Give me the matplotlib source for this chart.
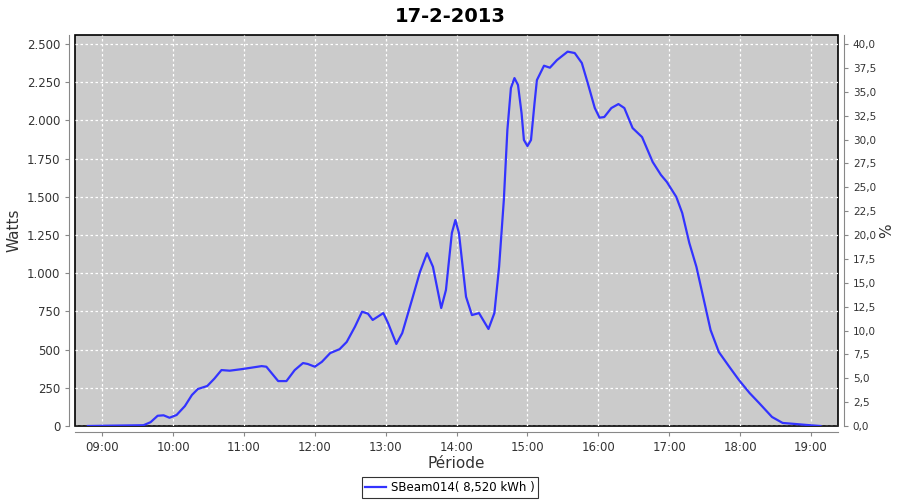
import matplotlib
matplotlib.use("Agg")
import matplotlib.pyplot as plt
import matplotlib.dates as mdates
from matplotlib.ticker import FuncFormatter, MultipleLocator
import pandas as pd


day = "2013-02-17"

times = ["08:48", "09:05", "09:35", "09:41", "09:47", "09:52", "09:57", "10:03",
         "10:10", "10:16", "10:21", "10:29", "10:35", "10:41", "10:48", "10:59",
         "11:15", "11:19", "11:29", "11:36", "11:43", "11:50", "11:54", "12:00",
         "12:06", "12:13", "12:21", "12:27", "12:34", "12:40", "12:45", "12:49",
         "12:58", "13:02", "13:09", "13:14", "13:23", "13:29", "13:35", "13:40",
         "13:47", "13:51", "13:56", "13:59", "14:02", "14:08", "14:13", "14:19",
         "14:27", "14:32", "14:36", "14:40", "14:43", "14:46", "14:49", "14:52",
         "14:55", "14:57", "15:00", "15:03", "15:06", "15:08", "15:14", "15:19",
         "15:25", "15:34", "15:40", "15:46", "15:51", "15:57", "16:01", "16:05",
         "16:11", "16:17", "16:22", "16:29", "16:37", "16:46", "16:53", "16:58",
         "17:06", "17:11", "17:17", "17:23", "17:28", "17:35", "17:42", "17:51",
         "17:59", "18:08", "18:16", "18:27", "18:36", "18:47", "18:56", "19:08"]

watts = [0, 2, 5, 25, 67, 70, 54, 72,
         130, 203, 242, 262, 310, 366, 362, 373,
         392, 388, 294, 294, 366, 412, 406, 388,
         420, 477, 503, 550, 650, 748, 735, 694,
         739, 674, 537, 608, 846, 1008, 1131, 1042,
         772, 890, 1263, 1348, 1263, 846, 726, 739,
         635, 739, 1042, 1479, 1937, 2212, 2277, 2232,
         2048, 1872, 1832, 1872, 2114, 2264, 2358, 2345,
         2395, 2450, 2441, 2376, 2245, 2081, 2018, 2022,
         2081, 2107, 2081, 1950, 1891, 1728, 1643, 1597,
         1499, 1394, 1198, 1042, 870, 628, 484, 386,
         301, 216, 151, 59, 20, 13, 7, 0]

x_start, x_end = "08:37", "19:23"
w_max = 2559
pct_per_watt = 40 / 2500

t = pd.to_datetime([day + " " + s for s in times])

fig = plt.figure(figsize=(9, 5), dpi=100)
ax = fig.add_axes([0.0833, 0.148, 0.848, 0.782])

ax.set_facecolor("#cbcbcb")
ax.patch.set_edgecolor("black")
ax.patch.set_linewidth(1.2)

ax.plot(t, watts, color="#3333ff", lw=1.6, label="SBeam014( 8,520 kWh )")

ax.set_xlim(pd.Timestamp(day + " " + x_start), pd.Timestamp(day + " " + x_end))
ax.set_ylim(0, w_max)

ax.xaxis.set_major_locator(mdates.HourLocator())
ax.xaxis.set_major_formatter(mdates.DateFormatter("%H:%M"))
ax.yaxis.set_major_locator(MultipleLocator(250))
ax.yaxis.set_major_formatter(FuncFormatter(
    lambda v, p: "{:,}".format(int(round(v))).replace(",", ".")))

ax.grid(True, color="white", linestyle=(0, (2, 2)), lw=0.9)

for side in ["top", "right"]:
    ax.spines[side].set_visible(False)
for side in ["left", "bottom"]:
    ax.spines[side].set_position(("outward", 4))
    ax.spines[side].set_color("#888888")

ax.tick_params(axis="both", colors="#888888", labelcolor="#333333",
               length=3, labelsize=8.5)

ax2 = ax.twinx()
ax2.set_ylim(0, w_max * pct_per_watt)
ax2.yaxis.set_major_locator(MultipleLocator(2.5))
ax2.yaxis.set_major_formatter(FuncFormatter(lambda v, p: "{:.1f}".format(v).replace(".", ",")))
for side in ["top", "left", "bottom"]:
    ax2.spines[side].set_visible(False)
ax2.spines["right"].set_position(("outward", 4))
ax2.spines["right"].set_color("#888888")
ax2.tick_params(axis="y", colors="#888888", labelcolor="#333333",
                length=3, labelsize=7.5)

ax.set_xlabel("Période", fontsize=11, color="#333333", labelpad=2)
ax.set_ylabel("Watts", fontsize=11, color="#333333", labelpad=4)
ax2.set_ylabel("%", fontsize=11, color="#333333", labelpad=2)

fig.suptitle("17-2-2013", fontsize=14, fontweight="bold", y=0.985)

leg = fig.legend(loc="center", bbox_to_anchor=(0.5, 0.025), fontsize=8.5,
                 frameon=True, fancybox=False, handlelength=1.8,
                 borderpad=0.3, handletextpad=0.4)
leg.get_frame().set_edgecolor("black")
leg.get_frame().set_linewidth(0.8)

fig.savefig("out.png", dpi=100)
